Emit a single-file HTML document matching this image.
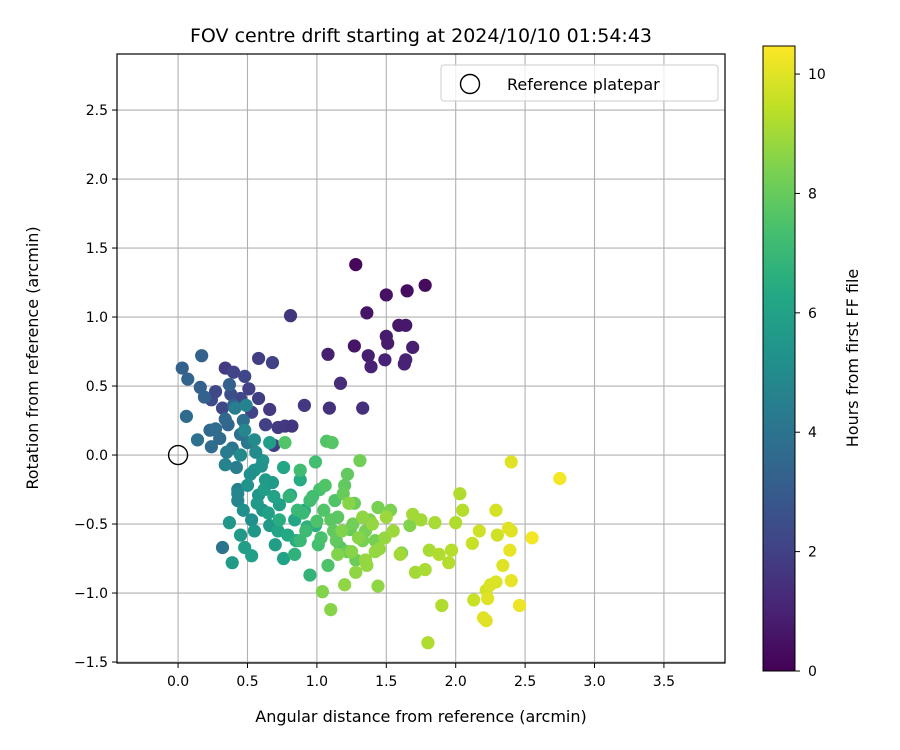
<!DOCTYPE html>
<html><head><meta charset="utf-8"><style>
body{margin:0;background:#fff;}
svg{display:block;font-family:"DejaVu Sans","Liberation Sans",sans-serif;}
</style></head><body>
<svg id="chart" width="900" height="750" viewBox="0 0 900 750">
<defs>
<linearGradient id="viridis" x1="0" y1="1" x2="0" y2="0">
<stop offset="0" stop-color="#440154"/><stop offset="0.1" stop-color="#482475"/><stop offset="0.2" stop-color="#414487"/><stop offset="0.3" stop-color="#355f8d"/><stop offset="0.4" stop-color="#2a788e"/><stop offset="0.5" stop-color="#21918c"/><stop offset="0.6" stop-color="#22a884"/><stop offset="0.7" stop-color="#44bf70"/><stop offset="0.8" stop-color="#7ad151"/><stop offset="0.9" stop-color="#bddf26"/><stop offset="1" stop-color="#fde725"/>
</linearGradient>
<clipPath id="plotclip"><rect x="117" y="54" width="608" height="609"/></clipPath>
</defs>
<text x="421" y="42" font-size="19" text-anchor="middle">FOV centre drift starting at 2024/10/10 01:54:43</text>
<g id="grid"></g>
<g id="points" clip-path="url(#plotclip)"></g>
<rect x="117" y="54" width="608" height="609" fill="none" stroke="#000" stroke-width="1.2"/>
<g id="xticks"></g>
<g id="yticks"></g>
<text x="421" y="722" font-size="16" text-anchor="middle">Angular distance from reference (arcmin)</text>
<text transform="translate(38,358) rotate(-90)" font-size="16" text-anchor="middle">Rotation from reference (arcmin)</text>
<g>
<rect x="441" y="65" width="277" height="36" rx="3" fill="#fff" fill-opacity="0.8" stroke="#ccc"/>
<circle cx="470" cy="84" r="9.5" fill="none" stroke="#000" stroke-width="1.4"/>
<text x="507" y="90" font-size="16">Reference platepar</text>
</g>
<rect x="763" y="46" width="32" height="625" fill="url(#viridis)" stroke="#000" stroke-width="1"/>
<g id="cbticks"></g>
<text transform="translate(858,358) rotate(-90)" font-size="16" text-anchor="middle">Hours from first FF file</text>
</svg>
<script>
const xTicks=[0.0,0.5,1.0,1.5,2.0,2.5,3.0,3.5];
const xTickLabels=["0.0","0.5","1.0","1.5","2.0","2.5","3.0","3.5"];
const yTicks=[-1.5,-1.0,-0.5,0.0,0.5,1.0,1.5,2.0,2.5];
const yTickLabels=["\u22121.5","\u22121.0","\u22120.5","0.0","0.5","1.0","1.5","2.0","2.5"];
const cTicks=[0,2,4,6,8,10];
const cTickLabels=["0","2","4","6","8","10"];
const refPoint=[0,0];
const xs=[1.28,1.78,1.65,1.5,1.36,1.59,1.64,1.5,1.51,1.27,1.69,1.37,1.08,1.64,1.49,1.63,1.39,
0.81,1.17,0.91,1.09,1.33,0.58,0.68,0.34,0.4,0.51,0.48,0.58,0.66,0.53,0.72,0.77,0.82,0.63,0.69,0.45,0.32,0.24,0.27,0.38,
0.03,0.17,0.07,0.16,0.19,0.06,0.14,0.23,0.24,0.3,0.36,0.4,0.32,0.42,0.47,0.43,0.5,0.39,0.37,0.27,0.34,0.45,0.35,
0.39,0.37,0.45,0.48,0.43,0.53,0.61,0.66,0.55,0.61,0.52,0.63,0.45,0.34,0.58,0.7,0.53,0.76,0.73,0.84,0.81,0.88,0.76,0.66,0.91,0.99,0.48,0.41,0.49,0.55,0.5,0.57,0.62,0.69,0.72,0.55,0.47,0.6,0.65,0.79,0.85,0.93,0.68,0.56,0.43,
0.77,1.07,1.11,0.99,0.88,1.02,1.13,1.2,1.1,1.24,1.17,1.01,1.08,1.28,0.95,1.31,1.22,0.88,0.95,0.73,0.84,1.38,1.42,1.61,1.67,1.53,1.44,0.9,0.97,1.05,1.15,1.27,1.19,0.92,1.03,1.12,1.33,1.26,0.86,0.8,1.0,1.14,1.22,1.35,1.06,
1.1,1.04,1.2,1.44,1.35,1.69,1.75,1.85,1.71,1.78,1.8,1.9,1.81,1.88,1.97,1.95,2.0,2.03,2.05,1.49,1.6,1.3,1.25,1.4,1.18,1.33,1.45,1.36,1.28,1.15,1.23,1.55,1.42,1.5,
2.12,2.17,2.13,2.22,2.25,2.29,2.3,2.29,2.4,2.75,2.38,2.4,2.39,2.34,2.4,2.46,2.55,2.22,2.23,2.2];
const ys=[1.38,1.23,1.19,1.16,1.03,0.94,0.94,0.86,0.81,0.79,0.78,0.72,0.73,0.69,0.69,0.66,0.64,
1.01,0.52,0.36,0.34,0.34,0.7,0.67,0.63,0.6,0.48,0.57,0.41,0.33,0.31,0.2,0.21,0.21,0.22,0.07,0.41,0.34,0.4,0.46,0.44,
0.63,0.72,0.55,0.49,0.42,0.28,0.11,0.18,0.06,0.12,0.22,0.36,-0.67,-0.09,0.25,-0.25,0.09,0.05,0.51,0.19,0.26,0.15,0.02,
-0.78,-0.49,-0.58,-0.67,-0.33,-0.47,-0.4,-0.51,-0.11,-0.04,-0.14,-0.18,0.0,-0.07,-0.29,-0.65,-0.73,-0.75,-0.36,-0.47,-0.29,-0.18,-0.09,0.09,-0.4,-0.51,0.18,0.34,0.36,0.11,-0.22,-0.35,-0.25,-0.3,-0.55,-0.55,-0.4,-0.08,-0.42,-0.58,-0.62,-0.52,-0.2,0.02,-0.28,
0.09,0.1,0.09,-0.05,-0.11,-0.25,-0.33,-0.22,-0.47,-0.54,-0.67,-0.65,-0.8,-0.76,-0.87,-0.04,-0.14,-0.62,-0.33,-0.47,-0.72,-0.47,-0.62,-0.71,-0.51,-0.4,-0.38,-0.42,-0.3,-0.4,-0.45,-0.35,-0.28,-0.55,-0.6,-0.55,-0.62,-0.5,-0.4,-0.3,-0.48,-0.62,-0.7,-0.55,-0.22,
-1.12,-0.99,-0.94,-0.95,-0.76,-0.43,-0.47,-0.49,-0.85,-0.83,-1.36,-1.09,-0.69,-0.72,-0.69,-0.78,-0.49,-0.28,-0.4,-0.6,-0.72,-0.6,-0.7,-0.5,-0.55,-0.45,-0.68,-0.8,-0.85,-0.72,-0.35,-0.55,-0.7,-0.45,
-0.64,-0.55,-1.05,-0.98,-0.94,-0.92,-0.58,-0.4,-0.05,-0.17,-0.53,-0.55,-0.69,-0.8,-0.91,-1.09,-0.6,-1.2,-1.04,-1.18];
const hours=[0.2,0.3,0.4,0.5,0.6,0.7,0.7,0.8,0.8,0.6,0.9,0.9,0.9,1.0,1.0,1.0,1.0,
1.6,1.3,1.7,1.5,1.4,1.9,2.0,1.8,2.1,2.0,2.2,1.9,1.7,2.1,1.8,1.7,1.6,2.0,1.9,2.2,2.3,2.4,2.3,2.5,
3.2,3.3,3.4,3.2,3.3,3.6,3.9,3.5,3.7,3.6,3.4,3.3,4.0,4.4,3.8,4.5,4.2,4.1,3.2,3.7,3.5,3.9,4.3,
5.7,5.5,5.6,5.8,4.8,5.2,5.4,5.6,5.3,5.5,5.2,5.7,5.0,4.6,5.4,5.8,5.9,6.0,5.9,6.2,6.2,6.4,6.2,5.8,6.4,6.6,4.8,4.4,4.6,5.0,5.3,5.6,5.8,6.0,6.1,5.5,5.2,5.3,5.9,6.3,6.5,6.7,5.7,5.0,4.8,
7.6,7.6,7.7,7.3,7.2,7.4,7.6,7.9,7.8,8.0,7.7,7.3,7.5,8.1,6.8,8.2,7.9,7.0,7.2,6.5,6.7,8.4,8.3,8.4,8.5,8.4,8.3,7.0,7.3,7.6,7.8,8.1,8.0,7.1,7.4,7.9,8.3,8.2,7.0,6.8,7.5,7.9,8.1,8.3,7.6,
8.6,8.5,8.7,8.7,8.8,9.0,9.0,9.1,9.0,9.1,9.2,9.2,9.1,9.2,9.3,9.3,9.2,9.2,9.3,8.8,9.0,8.6,8.6,8.8,8.5,8.7,8.8,8.8,8.7,8.5,8.6,8.9,8.8,8.9,
9.6,9.7,9.6,9.8,9.9,9.9,9.7,9.8,10.0,10.3,10.0,10.0,10.1,10.0,10.1,10.2,10.3,10.0,10.0,10.0];

const NS="http://www.w3.org/2000/svg";
const L=117,R=725,T=54,B=663,xmin=-0.44,xmax=3.94,ymin=-1.507,ymax=2.906;
const cb={top:46,bot:671,min:0,max:10.47};
function sx(v){return L+(v-xmin)/(xmax-xmin)*(R-L);}
function sy(v){return B-(v-ymin)/(ymax-ymin)*(B-T);}
function cy(v){return cb.bot-(v-cb.min)/(cb.max-cb.min)*(cb.bot-cb.top);}
const vir=[[68,1,84],[72,36,117],[65,68,135],[53,95,141],[42,120,142],[33,145,140],[34,168,132],[68,191,112],[122,209,81],[189,223,38],[253,231,37]];
function color(h){let t=Math.max(0,Math.min(1,h/cb.max))*10;let i=Math.min(9,Math.floor(t)),f=t-i;
const a=vir[i],b=vir[i+1];return "rgb("+a.map((c,k)=>Math.round(c+(b[k]-c)*f)).join(",")+")";}
function mk(tag,attrs,parent){const e=document.createElementNS(NS,tag);for(const k in attrs)e.setAttribute(k,attrs[k]);parent.appendChild(e);return e;}
const grid=document.getElementById('grid'),xt=document.getElementById('xticks'),yt=document.getElementById('yticks'),pts=document.getElementById('points'),cbt=document.getElementById('cbticks');
xTicks.forEach((v,i)=>{const x=sx(v);
 const g=mk('line',{x1:x,x2:x,y1:T,y2:B,stroke:'#b0b0b0','stroke-width':1.1},grid);
 
 
 const t=mk('line',{x1:x,x2:x,y1:B,y2:B+5,stroke:'#000'},xt);
 
 
 const l=mk('text',{x:x,y:B+23,'font-size':14,'text-anchor':'middle'},xt);l.textContent=xTickLabels[i];
 
 
});
yTicks.forEach((v,i)=>{const y=sy(v);
 const g=mk('line',{x1:L,x2:R,y1:y,y2:y,stroke:'#b0b0b0','stroke-width':1.1},grid);
 
 
 const t=mk('line',{x1:L-5,x2:L,y1:y,y2:y,stroke:'#000'},yt);
 
 
 const l=mk('text',{x:L-9,y:y+5,'font-size':14,'text-anchor':'end'},yt);l.textContent=yTickLabels[i];
 
 
});
cTicks.forEach((v,i)=>{const y=cy(v);
 const t=mk('line',{x1:795,x2:800,y1:y,y2:y,stroke:'#000'},cbt);
 
 
 const l=mk('text',{x:808,y:y+5,'font-size':14},cbt);l.textContent=cTickLabels[i];
 
 
});
const order=hours.map((h,i)=>i);
order.forEach(i=>{
 const c=mk('circle',{cx:sx(xs[i]),cy:sy(ys[i]),r:6.6,fill:color(hours[i])},pts);
 
 
});
const ref=mk('circle',{cx:sx(refPoint[0]),cy:sy(refPoint[1]),r:9.5,fill:'none',stroke:'#000','stroke-width':1.4},pts);


</script>
</body></html>
